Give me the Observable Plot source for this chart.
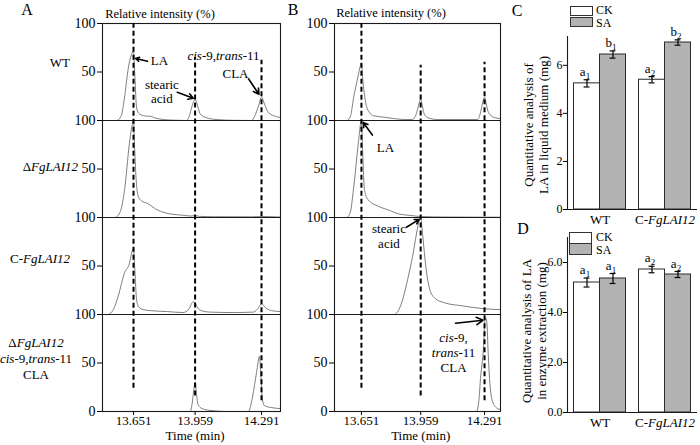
<!DOCTYPE html>
<html><head><meta charset="utf-8">
<script src="https://cdn.jsdelivr.net/npm/d3@7"></script>
<script src="https://cdn.jsdelivr.net/npm/@observablehq/plot@0.6"></script>
<style>
body{margin:0;background:#fff;}
#wrap{position:relative;width:700px;height:445px;font-family:"Liberation Serif","Times New Roman",serif;color:#000;overflow:hidden;background:#fff;}
.abs{position:absolute;white-space:nowrap;line-height:1;}
.pl{position:absolute;}
.pl svg text{font-family:"Liberation Serif","Times New Roman",serif;}
.box{position:absolute;box-sizing:border-box;border:1px solid #333;}
</style></head><body><div id="wrap"></div>
<script>
const FONT = '"Liberation Serif", "Times New Roman", serif';

// ---------- Chromatogram data (time in min, relative intensity %) ----------
const timeTicks = [13.651, 13.959, 14.291];
const intensityTicks = [0, 50, 100, 150, 200, 250, 300, 350, 400];

// Panel A traces (top to bottom)
const A_WT = [[13.570,0],[13.590,5],[13.605,22],[13.625,54],[13.641,68],[13.651,72],[13.658,45],[13.666,14],[13.675,8],[13.700,5],[13.715,4.5],[13.730,4.5],[13.760,2.5],[13.800,1],[13.860,0.3],[13.914,0],[13.929,4],[13.944,15],[13.959,22],[13.969,17],[13.984,7],[14.014,3],[14.064,1],[14.150,0.2],[14.241,0],[14.256,4],[14.276,15],[14.291,24],[14.306,17],[14.326,8],[14.366,4],[14.386,3]];
const A_KO = [[13.561,0],[13.585,6],[13.606,28],[13.631,77],[13.645,96],[13.651,100],[13.657,70],[13.664,40],[13.672,24],[13.686,18],[13.726,14],[13.760,9],[13.791,6],[13.840,3.5],[13.891,2.5],[13.939,1.5],[13.959,2],[13.979,1.2],[14.050,0.8],[14.241,0.7],[14.291,1],[14.386,0.5]];
const A_C = [[13.526,0],[13.550,5],[13.576,20],[13.606,43],[13.631,53],[13.641,63],[13.651,68],[13.658,45],[13.666,16],[13.676,8],[13.700,5],[13.736,4],[13.821,3],[13.899,2],[13.929,6],[13.949,13],[13.959,12],[13.969,8],[13.989,4],[14.030,2.5],[14.150,2],[14.251,2.5],[14.276,7],[14.291,11],[14.311,7],[14.341,4],[14.386,3]];
const A_KOCLA = [[13.900,0],[13.934,0],[13.944,8],[13.954,25],[13.959,30],[13.966,18],[13.974,7],[13.994,3],[14.039,1],[14.114,0],[14.226,0],[14.246,15],[14.266,40],[14.281,57],[14.288,35],[14.296,12],[14.306,6],[14.341,4],[14.386,3]];

// Panel B traces (top to bottom)
const B_WT = [[13.578,0],[13.595,5],[13.609,22],[13.635,47],[13.645,56],[13.651,59],[13.659,40],[13.667,26],[13.682,12],[13.713,5],[13.766,3.5],[13.818,2],[13.876,1],[13.917,1],[13.938,8],[13.950,17],[13.959,22],[13.968,15],[13.975,8],[13.995,3],[14.048,1],[14.255,1],[14.270,8],[14.282,19],[14.291,24],[14.300,17],[14.312,8],[14.343,3],[14.374,2]];
const B_LA = [[13.578,0],[13.595,7],[13.609,28],[13.635,77],[13.646,96],[13.651,100],[13.657,70],[13.665,32],[13.672,24],[13.687,18],[13.734,12],[13.802,7],[13.839,4],[13.912,2],[13.959,1],[14.084,0.5],[14.374,0.3]];
const B_SA = [[13.824,0],[13.843,4],[13.860,12],[13.891,36],[13.917,60],[13.938,84],[13.952,97],[13.959,99],[13.968,85],[13.975,70],[13.990,43],[14.006,26],[14.032,17],[14.084,12],[14.173,9],[14.286,6],[14.374,5]];
const B_CLA = [[14.200,0],[14.249,0],[14.262,12],[14.270,34],[14.286,68],[14.292,92],[14.296,97],[14.303,92],[14.310,60],[14.317,34],[14.333,10],[14.359,3],[14.374,2]];

// Marker lines (retention times) and their extent on the stacked intensity axis
const dashA = [{t:13.651,y1:24,y2:400},{t:13.959,y1:16,y2:365},{t:14.291,y1:11,y2:362}];
const dashB = [{t:13.651,y1:24,y2:400},{t:13.959,y1:16,y2:357},{t:14.291,y1:11,y2:360}];

// Annotations
const notesA = [{t:13.781,y:362,text:"LA"},{t:13.793,y:330,text:"stearic\nacid"},{t:14.101,y:367,text:"*cis*-9,*trans*-11"},{t:14.161,y:349,text:"CLA"}];
const arrowsA = [{t1:13.721,y1:361,t2:13.662,y2:364},{t1:13.870,y1:329,t2:13.950,y2:323},{t1:14.226,y1:343,t2:14.278,y2:327}];
const notesB = [{t:13.776,y:272,text:"LA"},{t:13.794,y:181,text:"stearic\nacid"},{t:14.130,y:61,text:"*cis*-9,\n*trans*-11\nCLA"}];
const arrowsB = [{t1:13.708,y1:285,t2:13.660,y2:298},{t1:13.885,y1:190,t2:13.951,y2:198},{t1:14.140,y1:91,t2:14.283,y2:94}];

// ---------- Bar chart data ----------
const groups = ["WT", "C-FgLAI12"];
const treatments = ["CK", "SA"];
const C_CK = [5.25, 5.40], C_SA = [6.45, 6.95];
const C_CK_err = [0.15, 0.13], C_SA_err = [0.15, 0.11];
const C_CK_sig = ["a_1", "a_2"], C_SA_sig = ["b_1", "b_2"];
const D_CK = [5.20, 5.72], D_SA = [5.36, 5.52];
const D_CK_err = [0.18, 0.13], D_SA_err = [0.20, 0.12];
const D_CK_sig = ["a_1", "a_2"], D_SA_sig = ["a_1", "a_2"];

const wrap = document.getElementById("wrap");

function richify(svg) {
  svg.querySelectorAll("text, tspan").forEach(el => {
    if (el.children.length) return;
    const s = el.textContent;
    if (!/[*_]/.test(s)) return;
    el.innerHTML = s
      .replace(/\*([^*]+)\*/g, '<tspan font-style="italic">$1</tspan>')
      .replace(/_(\d)/g, '<tspan dy="3" font-size="9" fill="#000">$1</tspan>');
  });
}
function place(svg, left, top, width) {
  const d = document.createElement("div");
  d.className = "pl"; d.style.left = left + "px"; d.style.top = top + "px"; d.style.width = width + "px";
  d.appendChild(svg); wrap.appendChild(d); richify(svg);
}
function lab(html, x, y, {size = 13, anchor = "middle", lh = 1} = {}) {
  const d = document.createElement("div");
  d.className = "abs"; d.innerHTML = html;
  d.style.left = x + "px"; d.style.top = y + "px"; d.style.fontSize = size + "px"; d.style.lineHeight = lh;
  const tx = anchor === "middle" ? "-50%" : anchor === "end" ? "-100%" : "0";
  d.style.transform = `translate(${tx}, -50%)`;
  d.style.textAlign = anchor === "middle" ? "center" : anchor === "end" ? "right" : "left";
  wrap.appendChild(d);
}
function box(x, y, w, h, fill) {
  const d = document.createElement("div");
  d.className = "box"; Object.assign(d.style, {left: x + "px", top: y + "px", width: w + "px", height: h + "px", background: fill});
  wrap.appendChild(d);
}

const yFmt = d => d === 0 ? "0" : (d % 100 === 0 ? "100" : "50");

function chrom(traces, {domain, width, marginLeft, marginRight, dashes, notes, arrows}) {
  const n = traces.length;
  const pts = traces.flatMap((tr, i) => tr.map(([t, v]) => ({t, y: v + (n - 1 - i) * 100, i})));
  return Plot.plot({
    width, height: 445, marginLeft, marginRight, marginTop: 23, marginBottom: 34,
    style: {fontFamily: FONT, fontSize: "13px", background: "transparent", overflow: "visible", color: "#000"},
    x: {domain}, y: {domain: [0, 400]},
    marks: [
      Plot.line(pts, {x: "t", y: "y", z: "i", stroke: "#707070", strokeWidth: 0.9, curve: "monotone-x"}),
      Plot.ruleY([100, 200, 300], {stroke: "#1a1a1a", strokeWidth: 1.1}),
      Plot.frame({stroke: "#1a1a1a", strokeWidth: 1.1}),
      Plot.ruleX(dashes, {x: "t", y1: "y1", y2: "y2", stroke: "#000", strokeWidth: 2, strokeDasharray: "5,3"}),
      Plot.axisX({ticks: timeTicks, tickFormat: d => d.toFixed(3), tickSize: 4, tickPadding: 0, label: null, fontSize: 13, fontFamily: FONT}),
      Plot.axisY({ticks: intensityTicks, tickFormat: yFmt, tickSize: 5, tickPadding: 2, label: null, fontSize: 14, fontFamily: FONT}),
      Plot.arrow(arrows, {x1: "t1", y1: "y1", x2: "t2", y2: "y2", stroke: "#000", strokeWidth: 1.6, headLength: 7}),
      Plot.text(notes, {x: "t", y: "y", text: "text", fontSize: 13, lineHeight: 1.13, fontFamily: FONT}),
      Plot.text(["Time (min)"], {x: 13.959, frameAnchor: "bottom", dy: 28, fontSize: 13, fontFamily: FONT})
    ]
  });
}

function barRows(ck, sa, ckE, saE, ckS, saS) {
  const rows = [];
  groups.forEach((g, gi) => {
    [[ "CK", ck, ckE, ckS], ["SA", sa, saE, saS]].forEach(([tr, v, e, s], ti) => {
      const x1 = gi - 0.4 + ti * 0.4;
      rows.push({g, tr, x1, x2: x1 + 0.4, xc: x1 + 0.2, v: v[gi], e: e[gi], sig: s[gi]});
    });
  });
  return rows;
}

function bars(rows, {yMax, height, marginTop, marginBottom, ylabel, ldx, ldy}) {
  return Plot.plot({
    width: 195, height, marginLeft: 62, marginRight: 3, marginTop, marginBottom,
    style: {fontFamily: FONT, fontSize: "13px", background: "transparent", overflow: "visible", color: "#000"},
    x: {domain: [-0.5, 1.5]}, y: {domain: [0, yMax]},
    color: {domain: treatments, range: ["#ffffff", "#b3b3b3"]},
    marks: [
      Plot.rectY(rows, {x1: "x1", x2: "x2", y1: 0, y2: "v", fill: "tr", stroke: "#2a2a2a", strokeWidth: 1}),
      Plot.ruleX(rows, {x: "xc", y1: d => d.v - d.e, y2: d => d.v + d.e, stroke: "#000", strokeWidth: 1.2}),
      Plot.ruleY(rows, {y: d => d.v + d.e, x1: d => d.xc - 0.045, x2: d => d.xc + 0.045, stroke: "#000", strokeWidth: 1.2}),
      Plot.ruleY(rows, {y: d => d.v - d.e, x1: d => d.xc - 0.045, x2: d => d.xc + 0.045, stroke: "#000", strokeWidth: 1.2}),
      Plot.text(rows, {x: "xc", y: d => d.v + d.e, text: "sig", lineAnchor: "bottom", dx: -2, dy: -4, fontSize: 13, fill: "#000", fontFamily: FONT}),
      Plot.ruleX([-0.5], {stroke: "#1a1a1a", strokeWidth: 1.1}),
      Plot.ruleY([0], {stroke: "#1a1a1a", strokeWidth: 1.1}),
      Plot.axisY({ticks: [0, 2, 4, 6], tickSize: 4, tickPadding: 1, label: null, fontSize: 12, fontFamily: FONT}),
      Plot.axisX({ticks: [0, 1], tickFormat: i => groups[i].replace("FgLAI12", "*FgLAI12*"), tickSize: 0, tickPadding: 5, label: null, fontSize: 13, fontFamily: FONT}),
      Plot.text([ylabel], {frameAnchor: "left", textAnchor: "middle", rotate: -90, dx: ldx, dy: ldy, fontSize: 13, lineHeight: 1.15, fontFamily: FONT})
    ]
  });
}

// Panel A
place(chrom([A_WT, A_KO, A_C, A_KOCLA], {domain: [13.496, 14.386], width: 290, marginLeft: 102, marginRight: 10, dashes: dashA, notes: notesA, arrows: arrowsA}), 0, 0, 290);
// Panel B
place(chrom([B_WT, B_LA, B_SA, B_CLA], {domain: [13.511, 14.374], width: 215, marginLeft: 44, marginRight: 5, dashes: dashB, notes: notesB, arrows: arrowsB}), 290, 0, 215);
// Panel C
place(bars(barRows(C_CK, C_SA, C_CK_err, C_SA_err, C_CK_sig, C_SA_sig), {yMax: 7.2, height: 230, marginTop: 36, marginBottom: 21, ylabel: "Quantitative analysis of\nLA in liquid medium (mg)", ldx: -32, ldy: 2}), 505, 0, 195);
// Panel D
place(bars(barRows(D_CK, D_SA, D_CK_err, D_SA_err, D_CK_sig, D_SA_sig), {yMax: 7.0, height: 245, marginTop: 37, marginBottom: 33, ylabel: "Quantitative analysis of LA\nin enzyme extraction (mg)", ldx: -34, ldy: 6}), 505, 200, 195);

// Panel letters and titles
lab("A", 27, 10, {size: 16}); lab("B", 293, 10, {size: 16});
lab("C", 517, 11, {size: 16}); lab("D", 523, 229, {size: 16});
lab("Relative intensity (%)", 160, 14, {size: 12.5});
lab("Relative intensity (%)", 391, 13, {size: 12.5});

// Row labels for A
lab("WT", 70, 62, {anchor: "end"});
lab("Δ<i>FgLAI12</i>", 78, 166, {anchor: "end"});
lab("C-<i>FgLAI12</i>", 70, 258, {anchor: "end"});
lab("Δ<i>FgLAI12</i><br><i>cis</i>-9,<i>trans</i>-11<br>CLA", 36, 359, {lh: 1.22});

// Legends for C and D
box(570, 6, 23, 10, "#ffffff"); box(570, 17, 23, 10, "#b3b3b3");
lab("CK", 596, 10, {anchor: "start", size: 12}); lab("SA", 596, 23, {anchor: "start", size: 12});
box(569, 232, 23, 11.5, "#ffffff"); box(569, 243, 23, 11.5, "#b3b3b3");
lab("CK", 596, 236.5, {anchor: "start", size: 12}); lab("SA", 596, 249.5, {anchor: "start", size: 12});
</script></body></html>
